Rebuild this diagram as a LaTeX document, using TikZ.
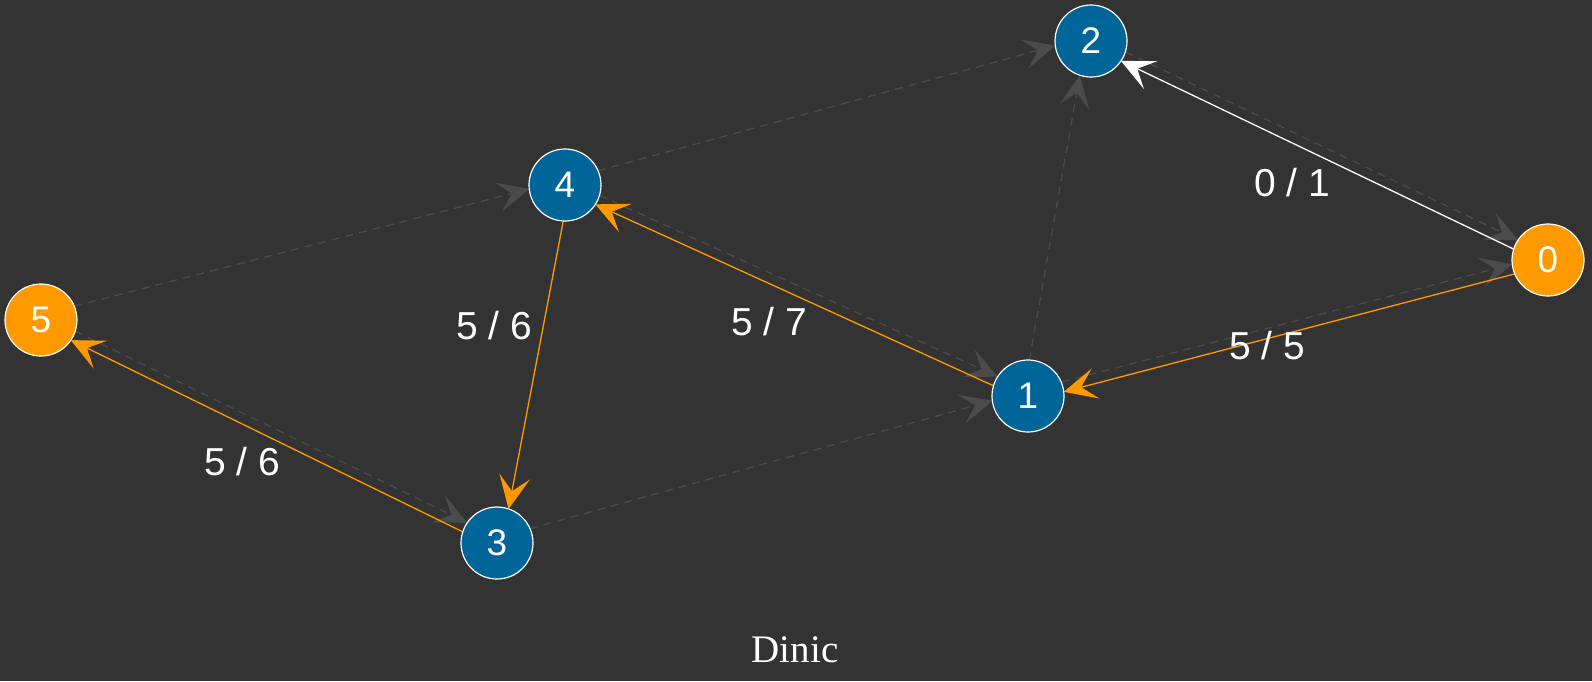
\documentclass[tikz,border=0pt]{standalone}
\usepackage{fontspec}
\setmainfont{Liberation Serif}
\newfontfamily\labelfont{Liberation Sans}
\usetikzlibrary{arrows.meta,calc}
\definecolor{canvas}{HTML}{333333}
\definecolor{nodeblue}{HTML}{006699}
\definecolor{flow}{HTML}{FF9900}
\definecolor{residual}{HTML}{4B4B4B}
\pgfdeclarelayer{bg}
\pgfdeclarelayer{links}
\pgfsetlayers{bg,links,main}
% residual edge a -> b, shifted to its left side and trimmed at both circles
\newcommand\resedge[2]{\draw[resid] ($(#1)!5pt!90:(#2)$) -- ($(#2)!5pt!-90:(#1)$);}
% flow edge a -> b with its colour
\newcommand\flowedge[3]{\draw[flowline,#3] ($(#1)!5pt!90:(#2)$) -- ($(#2)!5pt!-90:(#1)$);}
\begin{document}
\begin{tikzpicture}[x=1pt,y=-1pt,
  vertex/.style={circle, draw=white, line width=1.2pt, minimum size=72pt,
    inner sep=0pt, text=white, font=\labelfont\fontsize{37}{40}\selectfont},
  hub/.style={vertex, fill=nodeblue},
  term/.style={vertex, fill=flow},
  caplabel/.style={text=white, inner sep=0pt, font=\labelfont\fontsize{39}{42}\selectfont},
  resid/.style={residual, line width=1.3pt, dash pattern=on 8pt off 6pt,
    shorten >=35.6pt, shorten <=35.6pt,
    -{Stealth[length=32pt, width=30pt, inset=14pt]}},
  flowline/.style={line width=1.3pt, shorten >=35.6pt, shorten <=35.6pt,
    -{Stealth[length=33pt, width=31pt, inset=15pt]}}
]
\begin{pgfonlayer}{bg}
  \fill[canvas] (0,0) rectangle (1592,681);
\end{pgfonlayer}
\useasboundingbox (0,0) rectangle (1592,681);

% vertices
\node[term] (n0) at (1548,260) {0};
\node[hub]  (n1) at (1028,396) {1};
\node[hub]  (n2) at (1091,41)  {2};
\node[hub]  (n3) at (497,543)  {3};
\node[hub]  (n4) at (565,185)  {4};
\node[term] (n5) at (41,320)   {5};

\begin{pgfonlayer}{links}
  % residual network
  \resedge{n4}{n2}
  \resedge{n1}{n2}
  \resedge{n2}{n0}
  \resedge{n1}{n0}
  \resedge{n5}{n4}
  \resedge{n4}{n1}
  \resedge{n5}{n3}
  \resedge{n3}{n1}
  % flow along the augmenting paths
  \flowedge{n0}{n2}{white}
  \flowedge{n0}{n1}{flow}
  \flowedge{n1}{n4}{flow}
  \flowedge{n4}{n3}{flow}
  \flowedge{n3}{n5}{flow}
\end{pgfonlayer}

% flow / capacity labels
\node[caplabel] (l02) at (1292,183) {0 / 1};
\node[caplabel] (l01) at (1267,346) {5 / 5};
\node[caplabel] (l14) at (769,322)  {5 / 7};
\node[caplabel] (l43) at (494,326)  {5 / 6};
\node[caplabel] (l35) at (242,462)  {5 / 6};

\node[text=white, font=\fontsize{39}{42}\selectfont] (title) at (795,650) {Dinic};
\end{tikzpicture}
\end{document}
